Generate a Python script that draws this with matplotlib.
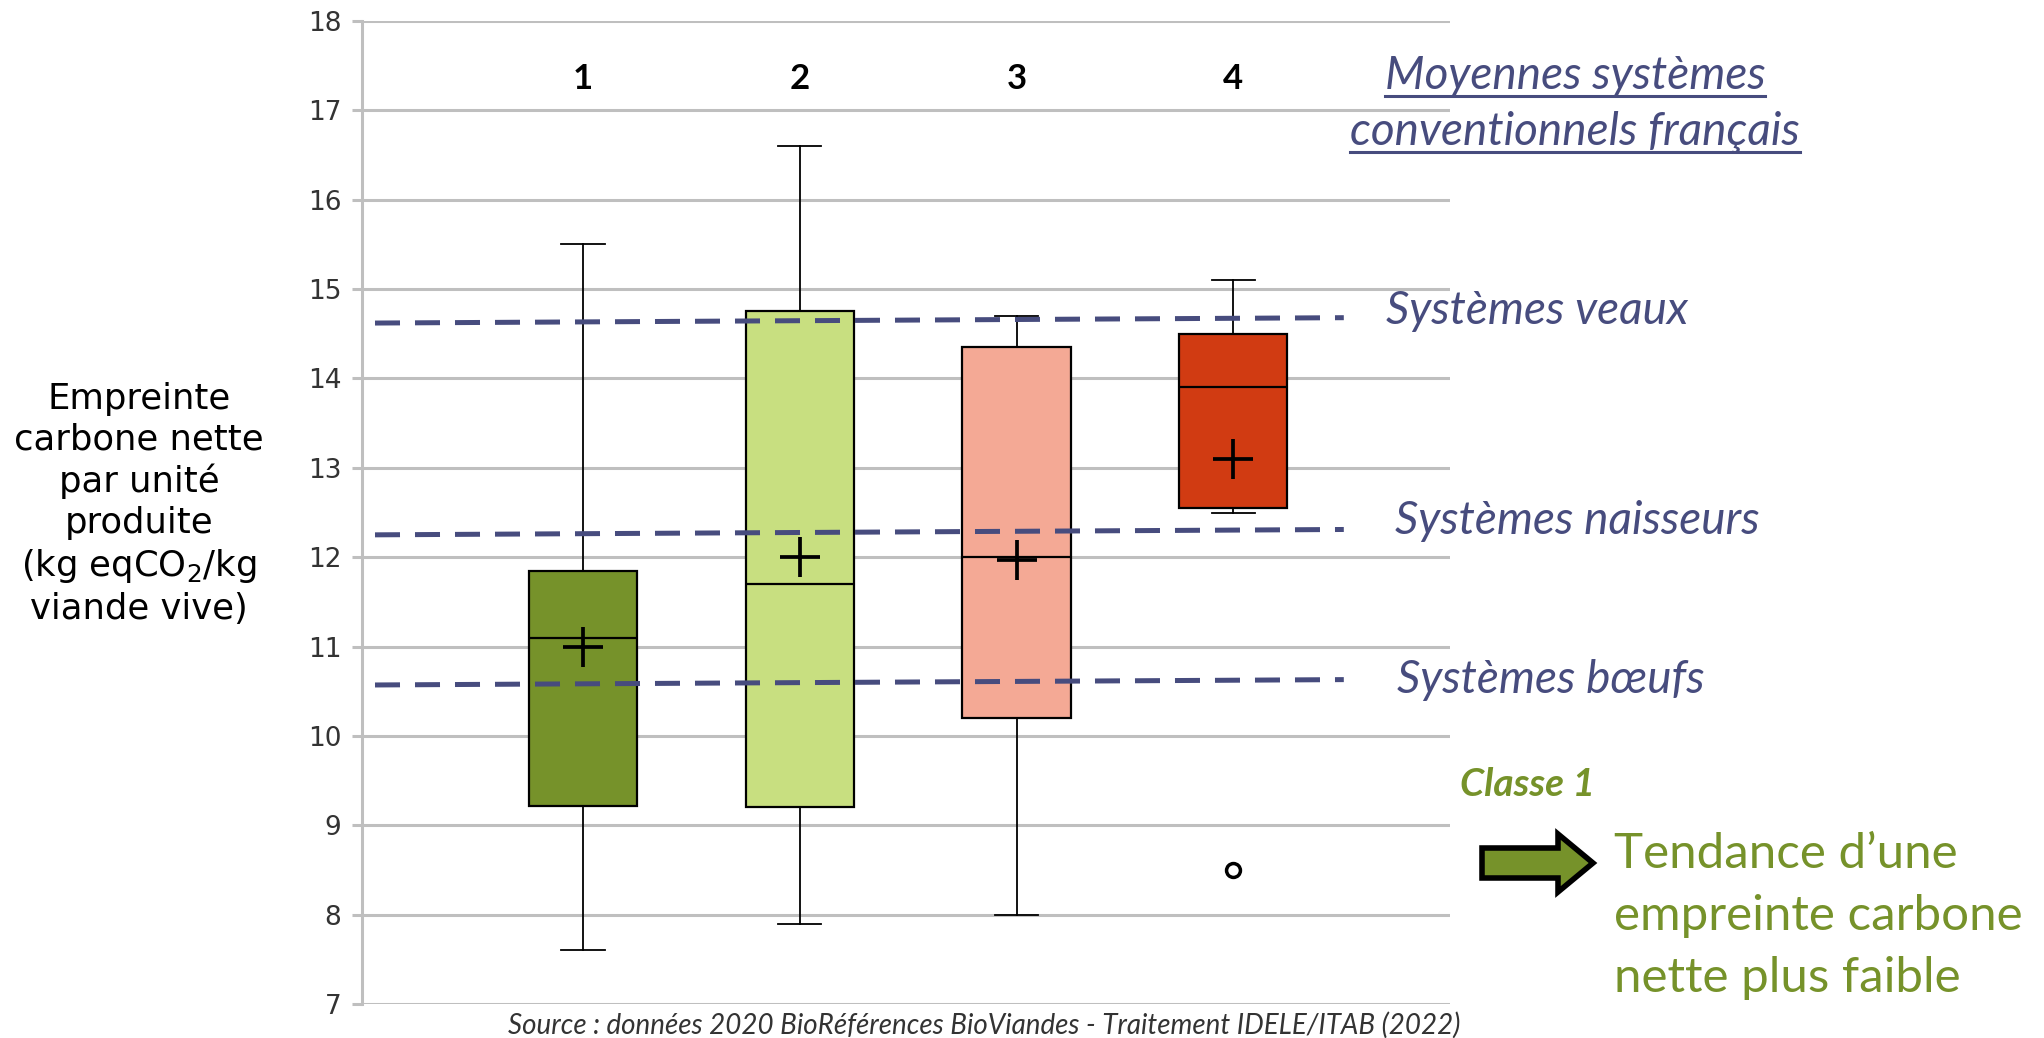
import matplotlib
matplotlib.use("Agg")
import matplotlib.pyplot as plt
from matplotlib.patches import Polygon
from matplotlib.lines import Line2D

# Values (kg eqCO2 / kg viande vive)
classes = ["1", "2", "3", "4"]
whisker_low = [7.6, 7.9, 8.0, 12.5]
q1 = [9.22, 9.2, 10.2, 12.55]
median = [11.1, 11.7, 12.0, 13.9]
q3 = [11.85, 14.75, 14.35, 14.5]
whisker_high = [15.5, 16.6, 14.7, 15.1]
means = [11.0, 12.0, 11.97, 13.1]
outliers = [[], [], [], [8.5]]

# French conventional systems averages (dashed lines, slightly tilted as drawn)
ref_labels = ["Systèmes veaux", "Systèmes naisseurs", "Systèmes bœufs"]
ref_start = [14.62, 12.25, 10.57]
ref_end = [14.68, 12.31, 10.63]

box_colors = ["#76922A", "#C8DF80", "#F4A995", "#D13B12"]
REF_COL = "#474C7E"
GREEN = "#76922A"
GRID = "#BFBFBF"

W, H = 2044, 1038


def fx(px):
    return px / W


def fy(py):
    return 1 - py / H


fig = plt.figure(figsize=(W / 100, H / 100), dpi=100)
ax = fig.add_axes([fx(362), fy(1004), (1450 - 362) / W, (1004 - 21) / H])

stats = []
for i in range(len(classes)):
    stats.append(dict(label=classes[i], whislo=whisker_low[i], q1=q1[i],
                      med=median[i], q3=q3[i], whishi=whisker_high[i],
                      mean=means[i], fliers=outliers[i]))

positions = list(range(1, len(classes) + 1))
bp = ax.bxp(stats, positions=positions, widths=0.5, capwidths=0.2,
            patch_artist=True, showmeans=True,
            boxprops=dict(edgecolor="black", linewidth=1.6),
            whiskerprops=dict(color="black", linewidth=1.3),
            capprops=dict(color="black", linewidth=1.3),
            medianprops=dict(color="black", linewidth=1.6),
            meanprops=dict(marker="+", markersize=29, markeredgecolor="black",
                           markeredgewidth=2.7),
            flierprops=dict(marker="o", markersize=10, markerfacecolor="white",
                            markeredgecolor="black", markeredgewidth=2.5))
for patch, col in zip(bp["boxes"], box_colors):
    patch.set_facecolor(col)

# dashed reference lines
for y0, y1 in zip(ref_start, ref_end):
    ax.plot([0.04, 4.51], [y0, y1], color=REF_COL, lw=3.6,
            linestyle=(0, (5, 3)), zorder=4, solid_capstyle="butt")

# class numbers
for p, c in zip(positions, classes):
    ax.text(p, 17.35, c, ha="center", va="center", fontsize=25,
            fontweight="bold", family="Lato")

ax.set_xlim(-0.02, 5.0)
ax.set_ylim(7, 18)
ax.set_yticks(range(7, 19))
ax.set_xticks([])
ax.yaxis.grid(True, color=GRID, linewidth=2.2)
ax.set_axisbelow(True)
for s in ["top", "right", "bottom"]:
    ax.spines[s].set_visible(False)
ax.spines["left"].set_color(GRID)
ax.spines["left"].set_linewidth(2.2)
ax.tick_params(axis="y", length=7, width=2.2, color=GRID, labelsize=19,
               labelcolor="#333333", pad=8)

# y label
fig.text(fx(139), fy(504),
         "Empreinte\ncarbone nette\npar unité\nproduite\n(kg eqCO$_2$/kg\nviande vive)",
         ha="center", va="center", fontsize=25.5, linespacing=1.25)

# right-hand annotations
t1 = fig.text(fx(1575), fy(76), "Moyennes systèmes", ha="center", va="center",
              fontsize=33, style="italic", color=REF_COL, family="Lato")
t2 = fig.text(fx(1575), fy(132), "conventionnels français", ha="center",
              va="center", fontsize=33, style="italic", color=REF_COL,
              family="Lato")
ref_pos = [(1386, 311), (1395, 521), (1397, 680)]
for lab, (px, py) in zip(ref_labels, ref_pos):
    fig.text(fx(px), fy(py), lab, ha="left", va="center", fontsize=33,
             style="italic", color=REF_COL, family="Lato")

fig.text(fx(1527), fy(785), "Classe 1", ha="center", va="center", fontsize=28,
         style="italic", fontweight="bold", color=GREEN, family="Lato")

# arrow
hx, tip, cy = 1558, 1593, 863
arrow_pts = [(1482, cy - 15), (hx, cy - 15), (hx, cy - 29), (tip, cy),
             (hx, cy + 29), (hx, cy + 15), (1482, cy + 15)]
fig.add_artist(Polygon([(fx(x), fy(y)) for x, y in arrow_pts], closed=True,
                       transform=fig.transFigure, facecolor=GREEN,
                       edgecolor="black", linewidth=4, joinstyle="miter"))

for txt, py in zip(["Tendance d\u2019une", "empreinte carbone", "nette plus faible"],
                   [854, 916, 978]):
    fig.text(fx(1614), fy(py), txt, ha="left", va="center", fontsize=35.5,
             color=GREEN, family="Lato")

fig.text(fx(984), fy(1025),
         "Source : données 2020 BioRéférences BioViandes - Traitement IDELE/ITAB (2022)",
         ha="center", va="center", fontsize=20, style="italic", color="#333333",
         family="Lato")

# underline the heading
fig.canvas.draw()
r = fig.canvas.get_renderer()
for t in (t1, t2):
    bb = t.get_window_extent(r)
    fig.add_artist(Line2D([bb.x0 / W, bb.x1 / W], [(bb.y0 + 1) / H] * 2,
                          transform=fig.transFigure, color=REF_COL, lw=2.2))

fig.savefig("out.png", dpi=100, facecolor="white")
